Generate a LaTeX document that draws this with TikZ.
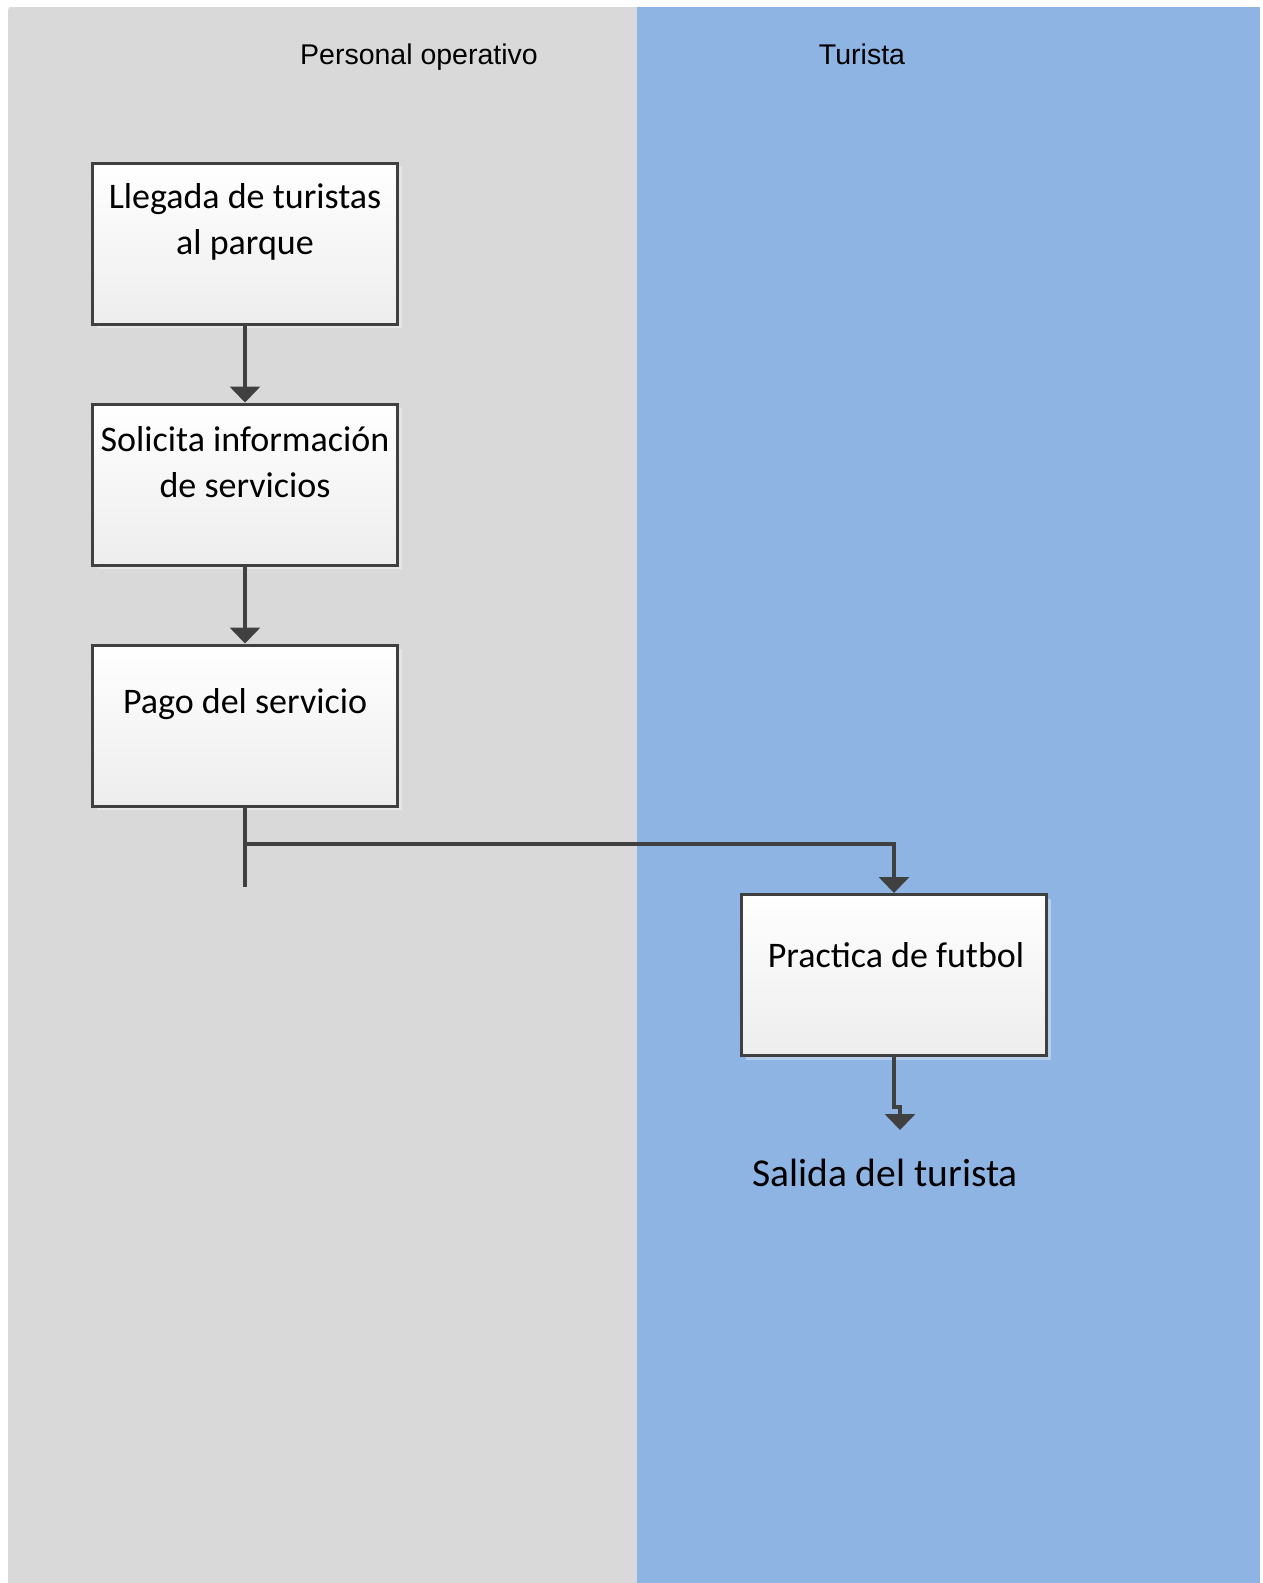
\documentclass[tikz,border=0pt]{standalone}
\usepackage{fontspec}
\setmainfont{Carlito}
\newfontfamily\hdrfont{Liberation Sans}
\usetikzlibrary{arrows.meta,shadows}
\definecolor{lanegray}{HTML}{D9D9D9}
\definecolor{laneblue}{HTML}{8EB4E3}
\definecolor{linegray}{HTML}{404040}
\definecolor{boxbot}{HTML}{EDEDED}
\tikzset{
  procbox/.style={draw=linegray, line width=3pt, top color=white, bottom color=boxbot,
    minimum width=305pt, minimum height=161pt, inner sep=0pt,
    drop shadow={shadow xshift=4pt, shadow yshift=-4pt, fill=white, opacity=0.35}},
  boxtext/.style={align=center, font=\fontsize{36}{46}\selectfont, inner sep=0pt},
  hdr/.style={font=\hdrfont\fontsize{28.5}{34}\selectfont, inner sep=0pt, anchor=base},
  conn/.style={draw=linegray, line width=3.5pt, -{Triangle[width=30pt,length=16pt]}},
  plain/.style={draw=linegray, line width=3.5pt},
}
\begin{document}
\begin{tikzpicture}[x=1pt,y=-1pt]
\useasboundingbox (0,0) rectangle (1262,1583);
\fill[white] (0,0) rectangle (1262,1583);
\fill[lanegray, rounded corners=3pt] (8,7) rectangle (640,1600);
\fill[laneblue] (637,7) rectangle (1260,1583);
\fill[lanegray] (8,1570) rectangle (637,1583);
\node[hdr] (h1) at (419,64) {Personal operativo};
\node[hdr] (h2) at (862,64) {Turista};
% boxes
\node[procbox] (b1) at (245,243.5) {};
\node[procbox] (b2) at (245,484.5) {};
\node[procbox] (b3) at (245,725.5) {};
\node[procbox] (b4) at (894,975) {};
\node[boxtext] (t1) at (245,221.5) {Llegada de turistas\\al parque};
\node[boxtext] (t2) at (245,462.5) {Solicita información\\de servicios};
\node[boxtext] (t3) at (245,704) {Pago del servicio};
\node[boxtext] (t4) at (896,955) {Practica de futbol};
\node[inner sep=0pt, font=\fontsize{39.5}{46}\selectfont] (exit) at (885,1173) {Salida del turista};
% connectors
\draw[conn] (b1.south) -- (b2.north);
\draw[conn] (b2.south) -- (b3.north);
\coordinate (jend) at (245,887);
\coordinate (jmid) at (245,844);
\draw[plain] (b3.south) -- (jend);
\draw[conn] (jmid) -| (b4.north);
\coordinate (k1) at (894,1107);
\coordinate (k2) at (900,1107);
\coordinate (tip) at (900,1130);
\draw[conn] (b4.south) -- (k1) -- (k2) -- (tip);
\end{tikzpicture}
\end{document}
